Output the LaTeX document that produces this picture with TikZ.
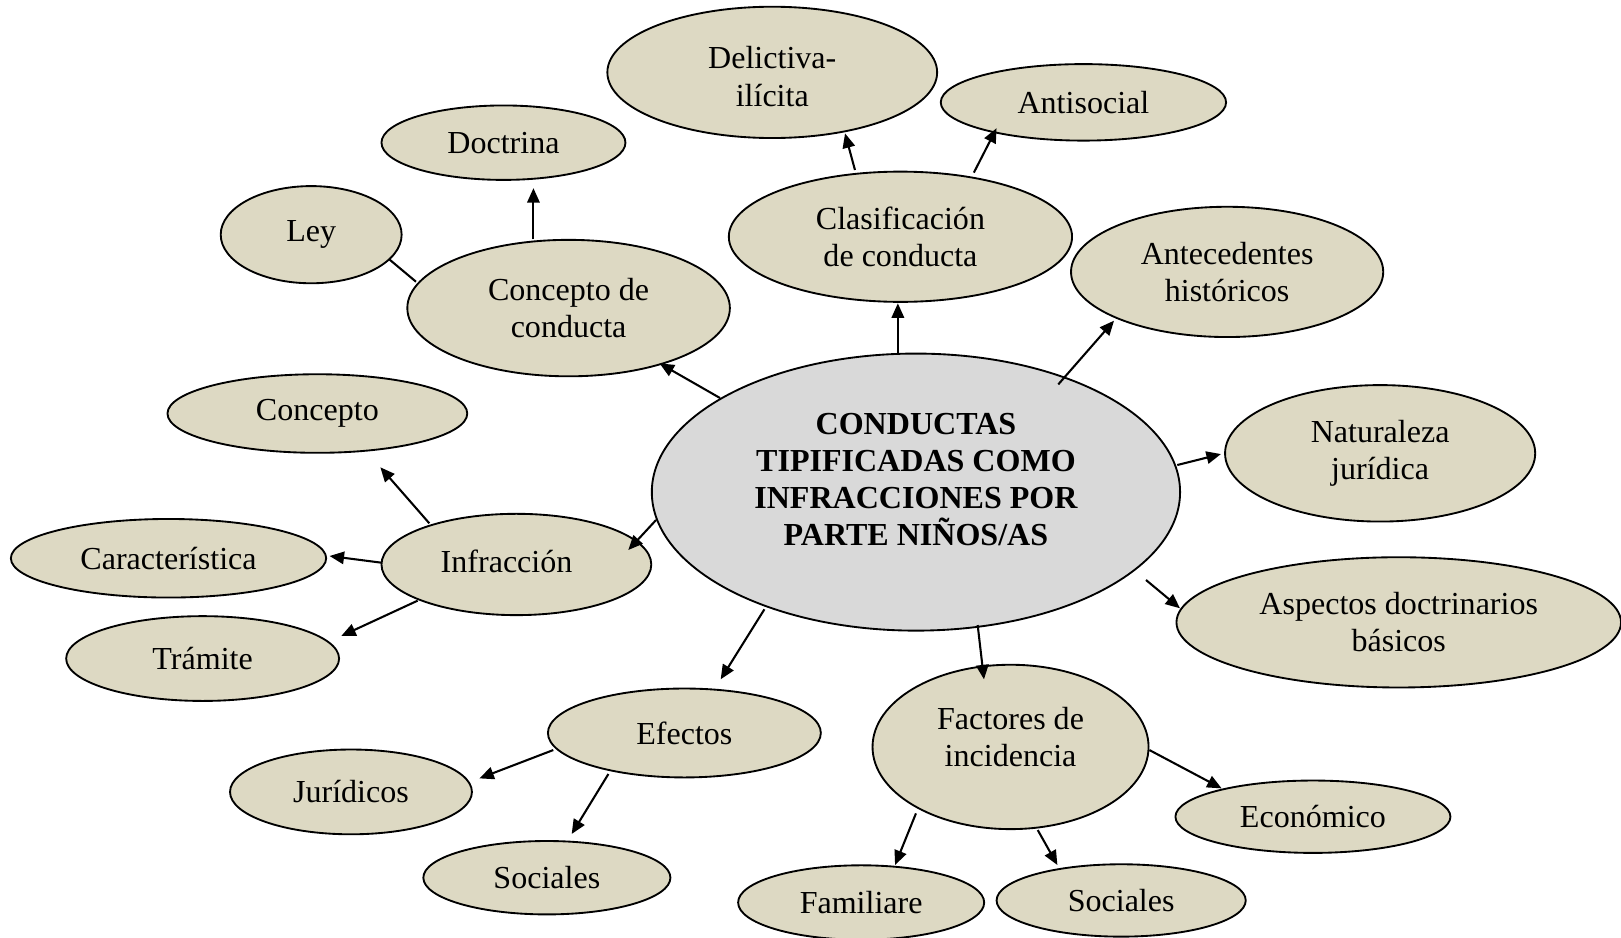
\documentclass[tikz,border=0pt]{standalone}
\usepackage{fontspec}
\setmainfont{Liberation Serif}
\usetikzlibrary{shapes.geometric,arrows.meta,calc}
\definecolor{tanfill}{HTML}{DDD9C3}
\definecolor{grayfill}{HTML}{D9D9D9}
\tikzset{
  bub/.style={ellipse, draw=black, line width=0.9pt, fill=tanfill, inner sep=0pt, outer sep=0pt,
              align=center, font=\fontsize{15.5}{18}\selectfont},
  txt/.style={align=center, inner sep=0pt, font=\fontsize{15.5}{18}\selectfont},
  arr/.style={line width=1pt, -{Triangle[length=7pt,width=6pt]}},
  lin/.style={line width=1pt}
}
\begin{document}
\begin{tikzpicture}[x=0.5pt,y=-0.5pt]
\useasboundingbox (0,0) rectangle (1568,907);

% central node
\node[bub, fill=grayfill, minimum width=255.5pt, minimum height=134pt,
  label={[txt, font=\bfseries\fontsize{15.5}{18}\selectfont, yshift=6pt]center:{CONDUCTAS\\TIPIFICADAS COMO\\INFRACCIONES POR\\PARTE NIÑOS/AS}}] (C) at (886,476) {};

% upper nodes
\node[bub, minimum width=159.5pt, minimum height=63.5pt,
  label={[txt, yshift=-2pt]center:{Delictiva-\\ilícita}}] (del) at (747,70) {};
\node[bub, minimum width=138pt, minimum height=37pt] (anti) at (1048,99) {Antisocial};
\node[bub, minimum width=118pt, minimum height=36pt] (doc) at (487,138) {Doctrina};
\node[bub, minimum width=87.5pt, minimum height=47pt] (ley) at (301,227) {Ley};
\node[bub, minimum width=156pt, minimum height=66pt] (cc) at (550,298) {Concepto de\\conducta};
\node[bub, minimum width=166pt, minimum height=63pt] (clas) at (871,229) {Clasificación\\de conducta};
\node[bub, minimum width=151pt, minimum height=63pt] (ant) at (1187,263) {Antecedentes\\históricos};

% left nodes
\node[bub, minimum width=145pt, minimum height=38pt] (conc) at (307,400) {Concepto};
\node[bub, minimum width=152.5pt, minimum height=38pt] (car) at (163,540) {Característica};
\node[bub, minimum width=130.5pt, minimum height=49pt,
  label={[txt, xshift=-4.75pt, yshift=1.5pt]center:{Infracción}}] (inf) at (499.5,546) {};
\node[bub, minimum width=132pt, minimum height=41pt] (tra) at (196,637) {Trámite};

% right nodes
\node[bub, minimum width=150pt, minimum height=66pt] (nat) at (1335,438.5) {Naturaleza\\jurídica};
\node[bub, minimum width=215pt, minimum height=63pt] (asp) at (1353,602) {Aspectos doctrinarios\\básicos};

% bottom nodes
\node[bub, minimum width=132pt, minimum height=43pt] (efe) at (662,709) {Efectos};
\node[bub, minimum width=133.5pt, minimum height=79.5pt,
  label={[txt, yshift=4.75pt]center:{Factores de\\incidencia}}] (fac) at (977.5,722.5) {};
\node[bub, minimum width=117pt, minimum height=41pt] (jur) at (339.5,766) {Jurídicos};
\node[bub, minimum width=119.5pt, minimum height=35.5pt] (socl) at (529,849) {Sociales};
\node[bub, minimum width=133pt, minimum height=35pt] (eco) at (1270,790) {Económico};
\node[bub, minimum width=119pt, minimum height=36pt] (fam) at (833,873) {Familiare};
\node[bub, minimum width=120.5pt, minimum height=35pt] (socr) at (1084.5,871) {Sociales};

% connectors
\draw[arr] ($(C)+(-189.5,-91)$) -- ($(cc)+(88,53.5)$);
\draw[arr] ($(cc)+(-34,-66.5)$) -- ($(doc)+(29,44)$);
\draw[lin] ($(ley)+(75.6,23.9)$) -- ($(cc)+(-147.6,-25.5)$);
\draw[arr] ($(clas)+(-44,-64.6)$) -- ($(del)+(70.4,59)$);
\draw[arr] ($(clas)+(71,-62)$) -- ($(anti)+(-84,25)$);
\draw[arr] ($(C)+(-17.5,-133)$) -- ($(clas)+(-2.5,64.4)$);
\draw[arr] ($(C)+(137.7,-104.2)$) -- ($(ant)+(-109.4,47.2)$);
\draw[arr] ($(C)+(252.8,-26.2)$) -- ($(nat)+(-154,0.7)$);
\draw[arr] ($(C)+(222.5,85)$) -- ($(asp)+(-211.6,-13.6)$);
\draw[arr] ($(C)+(59.7,128.6)$) -- ($(fac)+(-25.7,-65.4)$);
\draw[arr] ($(C)+(-146.6,113.4)$) -- ($(efe)+(35.1,-51.9)$);
\draw[arr] ($(C)+(-251.4,27)$) -- ($(inf)+(108.3,-14)$);
\draw[arr] ($(inf)+(-84.2,-39.8)$) -- ($(conc)+(60.9,52)$);
\draw[arr] ($(inf)+(-130.4,-1.7)$) -- ($(car)+(155.8,-2.2)$);
\draw[arr] ($(inf)+(-95.5,35)$) -- ($(tra)+(134.1,-21.8)$);
\draw[arr] ($(efe)+(-126.8,16.5)$) -- ($(jur)+(124.2,-13.1)$);
\draw[arr] ($(efe)+(-73.5,39.7)$) -- ($(socl)+(24,-42.3)$);
\draw[arr] ($(fac)+(134.3,3)$) -- ($(eco)+(-88.3,-27.4)$);
\draw[arr] ($(fac)+(-91.5,64.3)$) -- ($(fam)+(32.8,-36.3)$);
\draw[arr] ($(fac)+(26.3,80.4)$) -- ($(socr)+(-61.7,-34.3)$);
\end{tikzpicture}
\end{document}
